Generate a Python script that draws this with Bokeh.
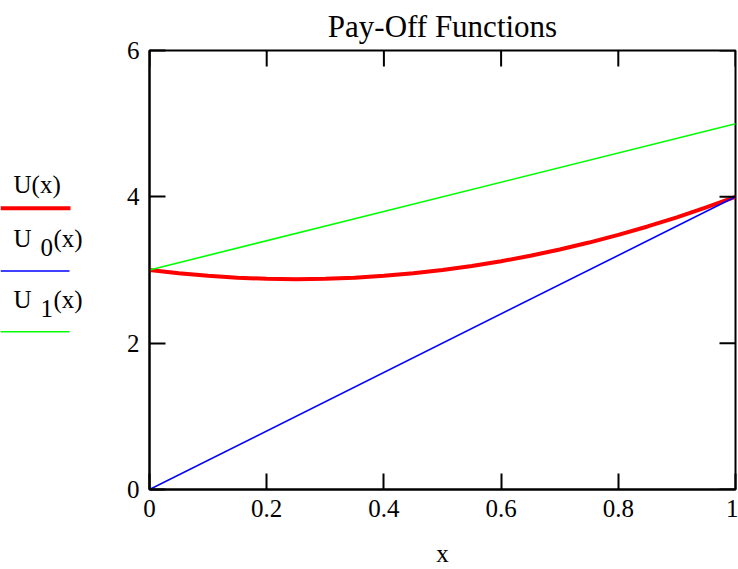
import math
from bokeh.plotting import figure
from bokeh.models import Range1d, FixedTicker
from bokeh.layouts import row
from bokeh.embed import file_html
from bokeh.resources import INLINE
from bokeh.core.properties import value

# ---- data ----
x_vals = [0.0, 0.05, 0.1, 0.15, 0.2, 0.25, 0.3, 0.35, 0.4, 0.45, 0.5,
          0.55, 0.6, 0.65, 0.7, 0.75, 0.8, 0.85, 0.9, 0.95, 1.0]
u_vals = [3.0, 2.955, 2.92, 2.895, 2.88, 2.875, 2.88, 2.895, 2.92, 2.955, 3.0,
          3.055, 3.12, 3.195, 3.28, 3.375, 3.48, 3.595, 3.72, 3.855, 4.0]
u0_x = [0.0, 1.0]
u0_vals = [0.0, 4.0]
u1_x = [0.0, 1.0]
u1_vals = [3.0, 5.0]
x_ticks = [0, 0.2, 0.4, 0.6, 0.8, 1]
x_tick_labels = ["0", "0.2", "0.4", "0.6", "0.8", "1"]
y_ticks = [0, 2, 4, 6]
y_tick_labels = ["0", "2", "4", "6"]
title_text = "Pay-Off Functions"
x_label = "x"

FONT = "Liberation Serif"
RED, BLUE, GREEN = "#ff0000", "#0000ff", "#00ff00"

X0, X1 = 0, 1
Y0, Y1 = 0, 6
LEG_W = 110
TOTAL_W, TOTAL_H = 738, 569

# ---- main plot ----
p = figure(width=TOTAL_W - LEG_W, height=TOTAL_H, output_backend="svg",
           toolbar_location=None,
           x_range=Range1d(X0, X1), y_range=Range1d(Y0, Y1),
           min_border_left=39, min_border_right=3, min_border_top=48,
           min_border_bottom=73, x_axis_label=x_label)
p.title.text = title_text
p.title.text_font = FONT
p.title.text_font_size = "31px"
p.title.text_font_style = "normal"
p.title.align = "center"
p.title.text_color = "black"
p.title.standoff = 13
p.xgrid.visible = False
p.ygrid.visible = False
p.outline_line_color = "black"
p.outline_line_width = 2
p.background_fill_color = "white"
p.border_fill_color = "white"

p.line(x_vals, u_vals, color=RED, line_width=4)
p.line(u0_x, u0_vals, color=BLUE, line_width=1.6)
p.line(u1_x, u1_vals, color=GREEN, line_width=1.6)

for ax, ticks, labels in ((p.xaxis[0], x_ticks, x_tick_labels),
                          (p.yaxis[0], y_ticks, y_tick_labels)):
    ax.ticker = FixedTicker(ticks=ticks)
    ax.major_label_overrides = {t: l for t, l in zip(ticks, labels)}
    ax.minor_tick_line_color = None
    ax.major_tick_in = 16
    ax.major_tick_out = 0
    ax.major_tick_line_width = 2
    ax.major_tick_line_color = "black"
    ax.axis_line_width = 2
    ax.axis_line_color = "black"
    ax.major_label_text_font = FONT
    ax.major_label_text_color = "black"
    ax.major_label_text_font_size = "25px"

p.xaxis[0].major_label_standoff = 10
p.yaxis[0].major_label_standoff = 10
p.xaxis[0].axis_label_text_font = FONT
p.xaxis[0].axis_label_text_font_size = "25px"
p.xaxis[0].axis_label_text_font_style = "normal"
p.xaxis[0].axis_label_text_color = "black"
p.xaxis[0].axis_label_standoff = 20

# inward ticks on the top and right edges of the frame
p.ray(x=x_ticks, y=[Y1] * len(x_ticks), length=16, length_units="screen",
      angle=-math.pi / 2, color="black", line_width=2)
p.ray(x=[X1] * len(y_ticks), y=y_ticks, length=16, length_units="screen",
      angle=math.pi, color="black", line_width=2)

# ---- legend panel (x in pixels, y shares the main plot's value scale) ----
lg = figure(width=LEG_W, height=TOTAL_H, output_backend="svg", toolbar_location=None,
            x_range=Range1d(0, LEG_W), y_range=Range1d(Y0, Y1),
            min_border=0, min_border_left=0, min_border_right=0,
            min_border_top=48, min_border_bottom=73)
lg.axis.visible = False
lg.xgrid.visible = False
lg.ygrid.visible = False
lg.outline_line_color = None
lg.border_fill_color = "white"
lg.background_fill_color = "white"

tkw = dict(text_font=value(FONT), text_font_size="25px", text_color="black",
           text_baseline="alphabetic", text_align="left")
lg.text(x=[13], y=[4.165], text=["U(x)"], **tkw)
lg.line(x=[0, 70], y=[3.844, 3.844], color=RED, line_width=4)

lg.text(x=[13], y=[3.428], text=["U"], **tkw)
lg.text(x=[40], y=[3.308], text=["0"], **tkw)
lg.text(x=[53], y=[3.428], text=["(x)"], **tkw)
lg.line(x=[0, 69], y=[2.987, 2.987], color=BLUE, line_width=1.6)

lg.text(x=[13], y=[2.598], text=["U"], **tkw)
lg.text(x=[40], y=[2.477], text=["1"], **tkw)
lg.text(x=[53], y=[2.598], text=["(x)"], **tkw)
lg.line(x=[0, 69], y=[2.156, 2.156], color=GREEN, line_width=1.6)

layout = row(lg, p)
open("out.html", "w").write(file_html(layout, INLINE))
